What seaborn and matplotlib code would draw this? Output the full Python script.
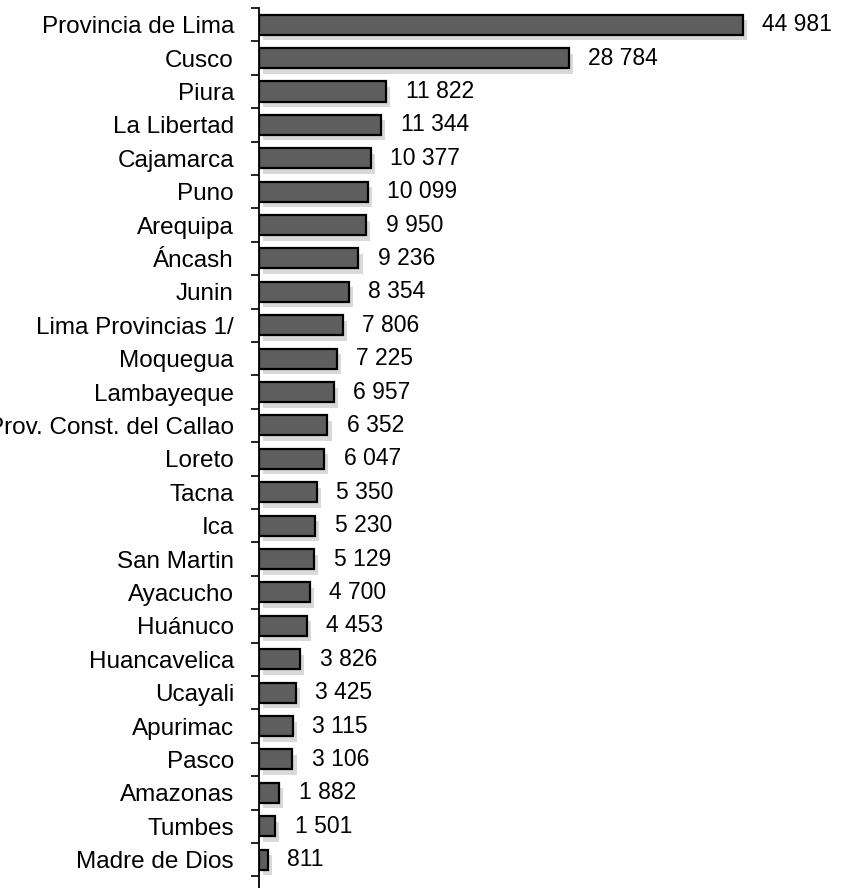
import numpy as np
import pandas as pd
import matplotlib
matplotlib.use("Agg")
import matplotlib.pyplot as plt
import matplotlib.patheffects as pe
import seaborn as sns

regiones = ["Provincia de Lima", "Cusco", "Piura", "La Libertad", "Cajamarca",
            "Puno", "Arequipa", "Áncash", "Junin", "Lima Provincias 1/",
            "Moquegua", "Lambayeque", "Prov. Const. del Callao", "Loreto",
            "Tacna", "Ica", "San Martin", "Ayacucho", "Huánuco", "Huancavelica",
            "Ucayali", "Apurimac", "Pasco", "Amazonas", "Tumbes", "Madre de Dios"]
valores = [44981, 28784, 11822, 11344, 10377, 10099, 9950, 9236, 8354, 7806,
           7225, 6957, 6352, 6047, 5350, 5230, 5129, 4700, 4453, 3826,
           3425, 3115, 3106, 1882, 1501, 811]

df = pd.DataFrame({"region": regiones, "valor": valores})

sns.set_style("white")
plt.rcParams['font.family'] = ['Liberation Sans', 'DejaVu Sans']
plt.rcParams['text.color'] = 'black'
plt.rcParams['ytick.color'] = 'black'

fig = plt.figure(figsize=(8.43, 8.88), dpi=100)
ax = fig.add_axes([259 / 843, 0.0, 1 - 259 / 843, 1 - 8 / 888])

sns.barplot(data=df, x="valor", y="region", orient="h", color="#5e5e5e",
            saturation=1, width=0.6, edgecolor="black", linewidth=1.6, ax=ax)

for p in ax.patches:
    p.set_path_effects([pe.SimplePatchShadow(offset=(3, -4), shadow_rgbFace="#a0a0a0", alpha=0.4),
                        pe.Normal()])

ax.bar_label(ax.containers[0], labels=[f"{v:,}".replace(",", " ") for v in valores],
             padding=14, fontsize=16.5, color="black")

ax.set_xlim(0, 584 / 0.01076)
ax.set_ylim(25.85, -0.5)
ax.set_xlabel("")
ax.set_ylabel("")
ax.set_xticks([])
for s in ["top", "right", "bottom"]:
    ax.spines[s].set_visible(False)
ax.spines["left"].set_color("black")
ax.spines["left"].set_linewidth(1.3)

ax.set_yticks(np.arange(-0.5, 26, 1), minor=True)
ax.tick_params(axis="y", which="major", length=0, pad=18, labelsize=17.5, labelcolor="black")
ax.tick_params(axis="y", which="minor", length=6, width=1.2, direction="out", left=True)

fig.savefig("out.png", dpi=100)
